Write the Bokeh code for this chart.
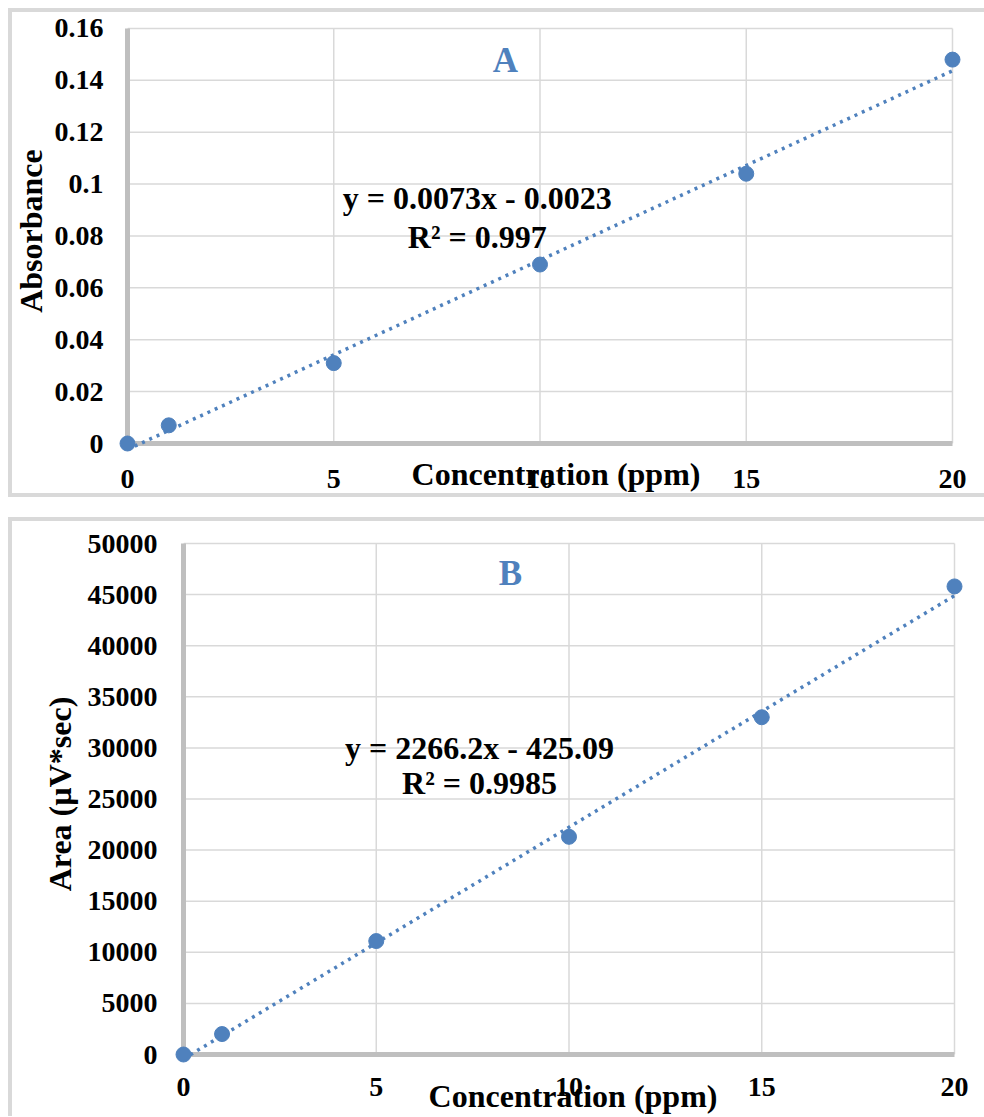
from bokeh.plotting import figure
from bokeh.models import Range1d, FixedTicker, Label
from bokeh.embed import file_html
from bokeh.resources import INLINE

# ---------------- data ----------------
conc = [0, 1, 5, 10, 15, 20]
absorbance = [0.0, 0.007, 0.031, 0.069, 0.104, 0.148]
area = [0, 2000, 11100, 21300, 33000, 45800]

slope_a, intercept_a = 0.0073, -0.0023
slope_b, intercept_b = 2266.2, -425.09

eq_a = ["y = 0.0073x - 0.0023", "R² = 0.997"]
eq_b = ["y = 2266.2x - 425.09", "R² = 0.9985"]

x_ticks = [0, 5, 10, 15, 20]
x_tick_labels = ["0", "5", "10", "15", "20"]
ya_ticks = [0, 0.02, 0.04, 0.06, 0.08, 0.1, 0.12, 0.14, 0.16]
ya_tick_labels = ["0", "0.02", "0.04", "0.06", "0.08", "0.1", "0.12", "0.14", "0.16"]
yb_ticks = [0, 5000, 10000, 15000, 20000, 25000, 30000, 35000, 40000, 45000, 50000]
yb_tick_labels = ["0", "5000", "10000", "15000", "20000", "25000", "30000",
                  "35000", "40000", "45000", "50000"]

x_title = "Concentration (ppm)"
ya_title = "Absorbance"
yb_title = "Area (µV*sec)"

# ---------------- style ----------------
BLUE = "#4F81BD"
GRID = "#D9D9D9"
AXIS = "#BFBFBF"
FONT = "Liberation Serif"
PB = "#D9D9D9"
SHADOW_A = f"inset 4px 0 0 0 {PB}, inset 0 4px 0 0 {PB}, inset 0 -4px 0 0 {PB}"
SHADOW_B = f"inset 4px 0 0 0 {PB}, inset 0 4px 0 0 {PB}"


def make_panel(xs, ys, slope, intercept, yticks, ylabels, eq, letter, ytitle,
               xr, yr, mb, stand_x, stand_y, lab_x, lab_y, pos, height, styles):
    p = figure(width=976, height=height, x_range=Range1d(*xr), y_range=Range1d(*yr),
               output_backend="svg", toolbar_location=None,
               min_border_left=mb[0], min_border_right=mb[1],
               min_border_top=mb[2], min_border_bottom=mb[3],
               outline_line_color=None, background_fill_color="white",
               border_fill_color=None, styles=styles)
    p.xgrid.visible = False
    p.ygrid.visible = False

    ymax = yticks[-1]
    # gridlines limited to the plot area
    p.segment(x0=[x_ticks[0]] * len(yticks), y0=yticks, x1=[x_ticks[-1]] * len(yticks),
              y1=yticks, line_color=GRID, line_width=1.5, level="underlay")
    p.segment(x0=x_ticks, y0=[yticks[0]] * len(x_ticks), x1=x_ticks, y1=[ymax] * len(x_ticks),
              line_color=GRID, line_width=1.5, level="underlay")

    # trendline from the displayed equation
    fx = [min(xs), max(xs)]
    fy = [slope * v + intercept for v in fx]
    p.line(fx, fy, line_color=BLUE, line_width=3.5, line_dash="3 5", level="overlay")
    p.scatter(xs, ys, size=15, fill_color=BLUE, line_color=BLUE, level="overlay")

    for ax in (p.xaxis[0], p.yaxis[0]):
        ax.axis_line_color = AXIS
        ax.axis_line_width = 5
        ax.major_tick_line_color = None
        ax.minor_tick_line_color = None
        ax.major_tick_out = 0
        ax.major_tick_in = 0
        ax.major_label_text_font = FONT
        ax.major_label_text_font_style = "bold"
        ax.major_label_text_font_size = "28px"
        ax.major_label_text_color = "black"
        ax.axis_label_text_font = FONT
        ax.axis_label_text_font_style = "bold"
        ax.axis_label_text_font_size = "32px"
        ax.axis_label_text_color = "black"

    p.xaxis[0].ticker = FixedTicker(ticks=x_ticks)
    p.xaxis[0].major_label_overrides = dict(zip(x_ticks, x_tick_labels))
    p.xaxis[0].bounds = (x_ticks[0], x_ticks[-1])
    p.xaxis[0].major_label_standoff = stand_x
    p.xaxis[0].axis_label = x_title
    p.xaxis[0].axis_label_standoff = lab_x

    p.yaxis[0].ticker = FixedTicker(ticks=yticks)
    p.yaxis[0].major_label_overrides = dict(zip(yticks, ylabels))
    p.yaxis[0].bounds = (yticks[0], ymax)
    p.yaxis[0].major_label_standoff = stand_y
    p.yaxis[0].axis_label = ytitle
    p.yaxis[0].axis_label_standoff = lab_y

    def lab(x, y, text, size, color="black"):
        p.add_layout(Label(x=x, y=y, text=text, text_font=FONT, text_font_style="bold",
                           text_font_size=size, text_color=color, text_align="center",
                           text_baseline="middle"))

    lab(pos["letter"][0], pos["letter"][1], letter, "35px", BLUE)
    lab(pos["eq"][0], pos["eq"][1], eq[0], "32px")
    lab(pos["eq"][0], pos["eq"][2], eq[1], "32px")
    return p


pA = make_panel(conc, absorbance, slope_a, intercept_a, ya_ticks, ya_tick_labels, eq_a, "A",
                ya_title, xr=(0, 20.7758), yr=(0, 0.163855), mb=(119, 0, 10, 54),
                stand_x=26, stand_y=24, lab_x=-35, lab_y=3,
                pos={"letter": (9.16, 0.1477), "eq": (8.48, 0.0948, 0.0798)},
                height=489,
                styles={"margin": "8px 0px 0px 8px", "box-shadow": SHADOW_A})

pB = make_panel(conc, area, slope_b, intercept_b, yb_ticks, yb_tick_labels, eq_b, "B",
                yb_title, xr=(0, 20.2075), yr=(0, 50978.5), mb=(175, 22, 16, 62),
                stand_x=23, stand_y=26, lab_x=-21, lab_y=7,
                pos={"letter": (8.48, 47065), "eq": (7.68, 30039, 26614)},
                height=599,
                styles={"margin": "20px 0px 0px 8px", "box-shadow": SHADOW_B})

open("out.html", "w").write(file_html([pA, pB], INLINE))
